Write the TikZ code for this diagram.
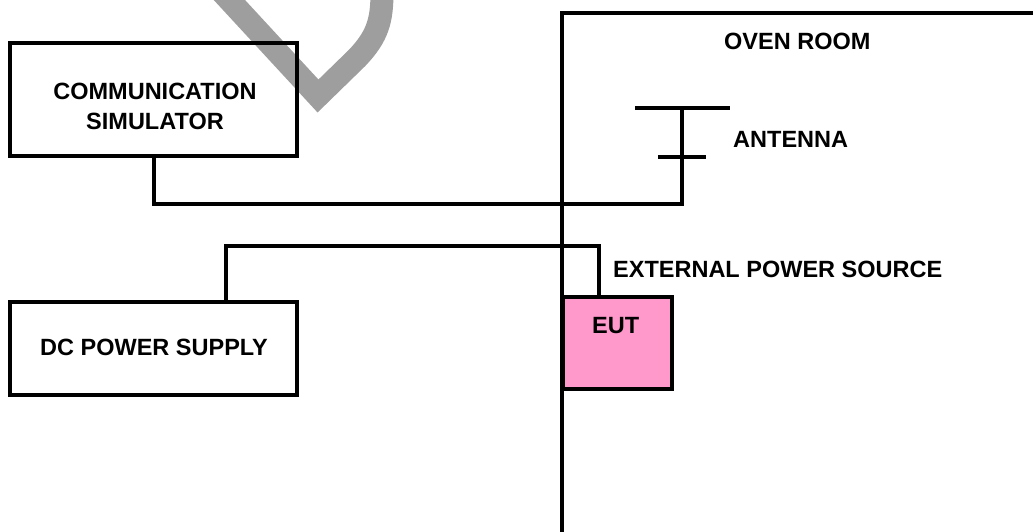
\documentclass[tikz,border=0pt]{standalone}
\usepackage{fontspec}
\setmainfont{Liberation Sans}
\begin{document}
\begin{tikzpicture}[x=1pt,y=-1pt,
  wire/.style={line width=3.8pt,line join=miter},
  box/.style={draw,line width=3.8pt,inner sep=0pt,outer sep=0pt},
  lbl/.style={font=\fontsize{23.5}{33}\selectfont\bfseries,inner sep=0pt,anchor=base west},
  clbl/.style={font=\fontsize{23.5}{30}\selectfont\bfseries,inner sep=0pt,align=center}]
\useasboundingbox (0,0) rectangle (1033,532);
% watermark
\draw[line width=23pt,color=black!38,line join=miter]
  (222,-8) -- (318,96) -- (357,58) .. controls (378,36) and (382,20) .. (382,-8);
% boxes
\node[box,minimum width=287pt,minimum height=113pt] (comm) at (153.5,99.5) {};
\node[box,minimum width=287pt,minimum height=93pt] (dc) at (153.5,348.5) {};
\node[box,fill={rgb,255:red,255;green,153;blue,204},minimum width=109pt,minimum height=92pt] (eut) at (617.5,343) {};
% texts
\node[clbl] (commt) at (155,106.5) {COMMUNICATION\\SIMULATOR};
\node[clbl,anchor=base] (dct) at (154,355) {DC POWER SUPPLY};
\node[lbl] (eutt) at (592,333) {EUT};
\node[lbl] (oven) at (724,50) {OVEN ROOM};
\node[lbl] (antt) at (733,147) {ANTENNA};
\node[lbl] (ext) at (613,277) {EXTERNAL POWER SOURCE};
% oven room wall
\coordinate (wallB) at (562,540);
\coordinate (wallC) at (562,13);
\coordinate (wallR) at (1040,13);
\draw[wire] (wallB) -- (wallC) -- (wallR);
% antenna
\coordinate (antTop) at (682,108);
\coordinate (antL1) at (635,108);
\coordinate (antR1) at (730,108);
\coordinate (antL2) at (658,157);
\coordinate (antR2) at (706,157);
\draw[wire] (antL1) -- (antR1);
\draw[wire] (antL2) -- (antR2);
% cables
\draw[wire] (comm.south -| 154,0) -- (154,204) -- (682,204) -- (antTop);
\draw[wire] (dc.north -| 226,0) -- (226,246) -- (599,246) -- (eut.north -| 599,0);
\end{tikzpicture}
\end{document}
